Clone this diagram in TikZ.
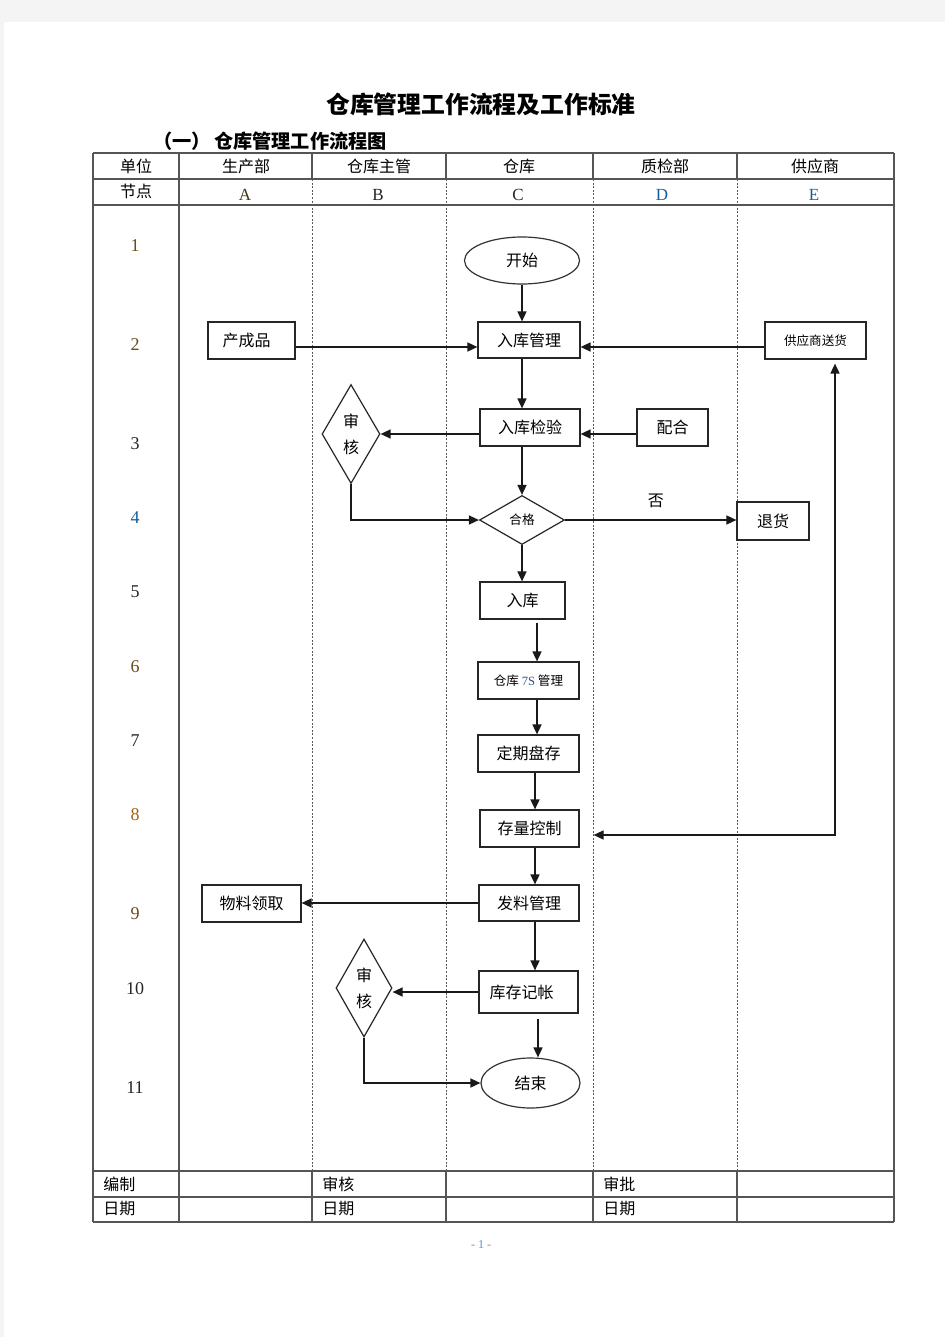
\documentclass[tikz,border=0pt]{standalone}
\usepackage{fontspec}
\setmainfont{Liberation Serif}
\newfontfamily\cjk{Noto Sans CJK SC}
\usetikzlibrary{shapes.geometric,arrows.meta,calc}
\definecolor{pagebg}{HTML}{F4F4F4}
\definecolor{tgray}{HTML}{555555}
\definecolor{dblue}{HTML}{1A5C9A}
\definecolor{dbrown}{HTML}{6A4A1A}
\tikzset{
  tline/.style={draw=tgray, line width=0.8pt},
  lane/.style={draw=black!65, line width=0.5pt, dash pattern=on 1pt off 0.8pt},
  box/.style={draw=black!85, line width=0.6pt, rectangle, inner sep=0pt, font=\cjk\fontsize{8}{10}\selectfont},
  sbox/.style={box, font=\cjk\fontsize{6.3}{8}\selectfont},
  term/.style={draw=black!80, line width=0.6pt, ellipse, inner sep=0pt, font=\cjk\fontsize{8}{10}\selectfont},
  dia/.style={draw=black!85, line width=0.6pt, diamond, inner sep=0pt, align=center, font=\cjk\fontsize{8}{13}\selectfont},
  arr/.style={draw=black!90, line width=0.8pt, -{Triangle[length=5pt,width=4.5pt]}},
  arrb/.style={draw=black!90, line width=0.8pt, {Triangle[length=5pt,width=4.5pt]}-{Triangle[length=5pt,width=4.5pt]}},
  hdr/.style={font=\cjk\fontsize{8}{10}\selectfont, inner sep=0pt},
  ltr/.style={font=\fontsize{8.5}{10}\selectfont, inner sep=0pt},
  num/.style={font=\fontsize{9}{10}\selectfont, inner sep=0pt},
}
\begin{document}
\begin{tikzpicture}[x=0.5pt,y=-0.5pt]
\fill[pagebg] (0,0) rectangle (945,1337);
\fill[white] (4,22) rectangle (945,1337);
\useasboundingbox (0,0) rectangle (945,1337);

% titles
\node[font=\cjk\bfseries\fontsize{11.9}{14}\selectfont, inner sep=0pt] (title) at (481,104) {仓库管理工作流程及工作标准};
\node[font=\cjk\bfseries\fontsize{9.6}{12}\selectfont, inner sep=0pt, anchor=west] (subtitle) at (153,141) {（一）\,仓库管理工作流程图};

% table grid
\foreach \y in {153,179,205,1171,1197,1222} \draw[tline] (93,\y) -- (894,\y);
\draw[tline] (93,153) -- (93,1222);
\draw[tline] (894,153) -- (894,1222);
\draw[tline] (179,153) -- (179,1222);
\foreach \x in {312,446,593,737} {
  \draw[tline] (\x,153) -- (\x,179);
  \draw[lane] (\x,179) -- (\x,1171);
  \draw[tline] (\x,1171) -- (\x,1222);
}

% header texts
\node[hdr] (hunit) at (136,166) {单位};
\node[hdr] (hA) at (246,166) {生产部};
\node[hdr] (hB) at (379,166) {仓库主管};
\node[hdr] (hC) at (519,166) {仓库};
\node[hdr] (hD) at (665,166) {质检部};
\node[hdr] (hE) at (815,166) {供应商};
\node[hdr] (hnode) at (136,191) {节点};
\node[ltr, text=dbrown!70!black] (lA) at (245,195) {A};
\node[ltr, text=black!85] (lB) at (378,195) {B};
\node[ltr, text=black!85] (lC) at (518,195) {C};
\node[ltr, text=dblue] (lD) at (662,195) {D};
\node[ltr, text=dblue] (lE) at (814,195) {E};

% row numbers
\node[num, text=dbrown] (r1) at (135,246) {1};
\node[num, text=dbrown] (r2) at (135,345) {2};
\node[num, text=black!85] (r3) at (135,444) {3};
\node[num, text=dblue] (r4) at (135,518) {4};
\node[num, text=black!85] (r5) at (135,592) {5};
\node[num, text=dbrown] (r6) at (135,667) {6};
\node[num, text=black!85] (r7) at (135,741) {7};
\node[num, text=dbrown!60!orange] (r8) at (135,815) {8};
\node[num, text=dbrown] (r9) at (135,914) {9};
\node[num, text=black!85] (r10) at (135,989) {10};
\node[num, text=black!85] (r11) at (135,1088) {11};

% footer rows
\node[hdr, anchor=west] (f1) at (103,1184) {编制};
\node[hdr, anchor=west] (f2) at (322,1184) {审核};
\node[hdr, anchor=west] (f3) at (603,1184) {审批};
\node[hdr, anchor=west] (f4) at (103,1209) {日期};
\node[hdr, anchor=west] (f5) at (322,1209) {日期};
\node[hdr, anchor=west] (f6) at (603,1209) {日期};

% page number
\node[font=\fontsize{6}{7}\selectfont, text=black!45, inner sep=0pt] (pg) at (481,1245) {- \textcolor{dblue!70}{1} -};

% flow nodes
\node[term, minimum width=57.5pt, minimum height=23.5pt] (start) at (522,260.5) {开始};
\node[box, minimum width=51pt, minimum height=18pt] (rkgl) at (529,340) {入库管理};
\node[box, minimum width=43.5pt, minimum height=18.5pt] (ccp) at (251.5,340.5) {\hspace{-5pt}产成品};
\node[sbox, minimum width=50.5pt, minimum height=18.5pt] (gys) at (815.5,340.5) {供应商送货};
\node[dia, minimum width=29pt, minimum height=49.5pt, aspect=0.586] (sh1) at (351,434) {审\\核};
\node[box, minimum width=50pt, minimum height=18.5pt] (rkjy) at (530,427.5) {入库检验};
\node[box, minimum width=35.5pt, minimum height=18.5pt] (ph) at (672.5,427.5) {配合};
\node[dia, font=\cjk\fontsize{6.3}{8}\selectfont, minimum width=42.5pt, minimum height=24.5pt, aspect=1.73] (hg) at (522,520) {合格};
\node[box, minimum width=36pt, minimum height=19pt] (th) at (773,521) {退货};
\node[box, minimum width=42.5pt, minimum height=18.5pt] (rk) at (522.5,600.5) {入库};
\node[sbox, minimum width=50.5pt, minimum height=18.5pt] (c7s) at (528.5,680.5) {仓库 {\rmfamily\textcolor{dblue!80!dbrown}{7S}} 管理};
\node[box, minimum width=50.5pt, minimum height=18.5pt] (dqpc) at (528.5,753.5) {定期盘存};
\node[box, minimum width=49.5pt, minimum height=18.5pt] (clkz) at (529.5,828.5) {存量控制};
\node[box, minimum width=49.5pt, minimum height=18.5pt] (wllq) at (251.5,903.5) {物料领取};
\node[box, minimum width=50pt, minimum height=18pt] (flgl) at (529,903) {发料管理};
\node[dia, minimum width=28pt, minimum height=49pt, aspect=0.571] (sh2) at (364,988) {审\\核};
\node[box, minimum width=49.5pt, minimum height=21pt] (kcjz) at (528.5,992) {\hspace{-7pt}库存记帐};
\node[term, minimum width=49.5pt, minimum height=25pt] (end) at (530.5,1083) {结束};

% connectors
\draw[arr] (start.south) -- (start.south |- rkgl.north);
\draw[arr] ($(ccp.east)+(0,6.5)$) -- ($(rkgl.west)+(0,7)$);
\draw[arr] ($(gys.west)+(0,6.5)$) -- ($(rkgl.east)+(0,7)$);
\draw[arr] (start.south |- rkgl.south) -- (start.south |- rkjy.north);
\draw[arr] (rkjy.west |- sh1.east) -- (sh1.east);
\draw[arr] (ph.west |- sh1.east) -- (rkjy.east |- sh1.east);
\draw[arr] (hg.north |- rkjy.south) -- (hg.north);
\draw[arr] (sh1.south) |- (hg.west);
\draw[arr] (hg.east) -- (th.west |- hg.east) node[pos=0.53, above=5.5pt, font=\cjk\fontsize{8}{10}\selectfont, inner sep=0pt] (no) {否};
\draw[arr] (hg.south) -- (hg.south |- rk.north);
\draw[arr] ($(rk.south)+(14.5,3)$) -- ($(c7s.north)+(8.5,0)$);
\draw[arr] ($(c7s.south)+(8.5,0)$) -- ($(dqpc.north)+(8.5,0)$);
\draw[arr] ($(dqpc.south)+(6.5,0)$) -- ($(clkz.north)+(5.5,0)$);
\draw[arr] ($(clkz.south)+(5.5,0)$) -- ($(flgl.north)+(6,0)$);
\draw[arr] (flgl.west) -- (wllq.east |- flgl.west);
\draw[arr] ($(flgl.south)+(6,0)$) -- ($(kcjz.north)+(6.5,0)$);
\draw[arr] (kcjz.west) -- (sh2.east |- kcjz.west);
\draw[arr] ($(kcjz.south)+(9.5,5)$) -- ($(end.north)+(7.5,0)$);
\draw[arr] (sh2.south) |- (end.west);
\draw[arrb] ($(clkz.east)+(14,6.5)$) -| ($(gys.south)+(19.5,4)$);
\end{tikzpicture}
\end{document}
